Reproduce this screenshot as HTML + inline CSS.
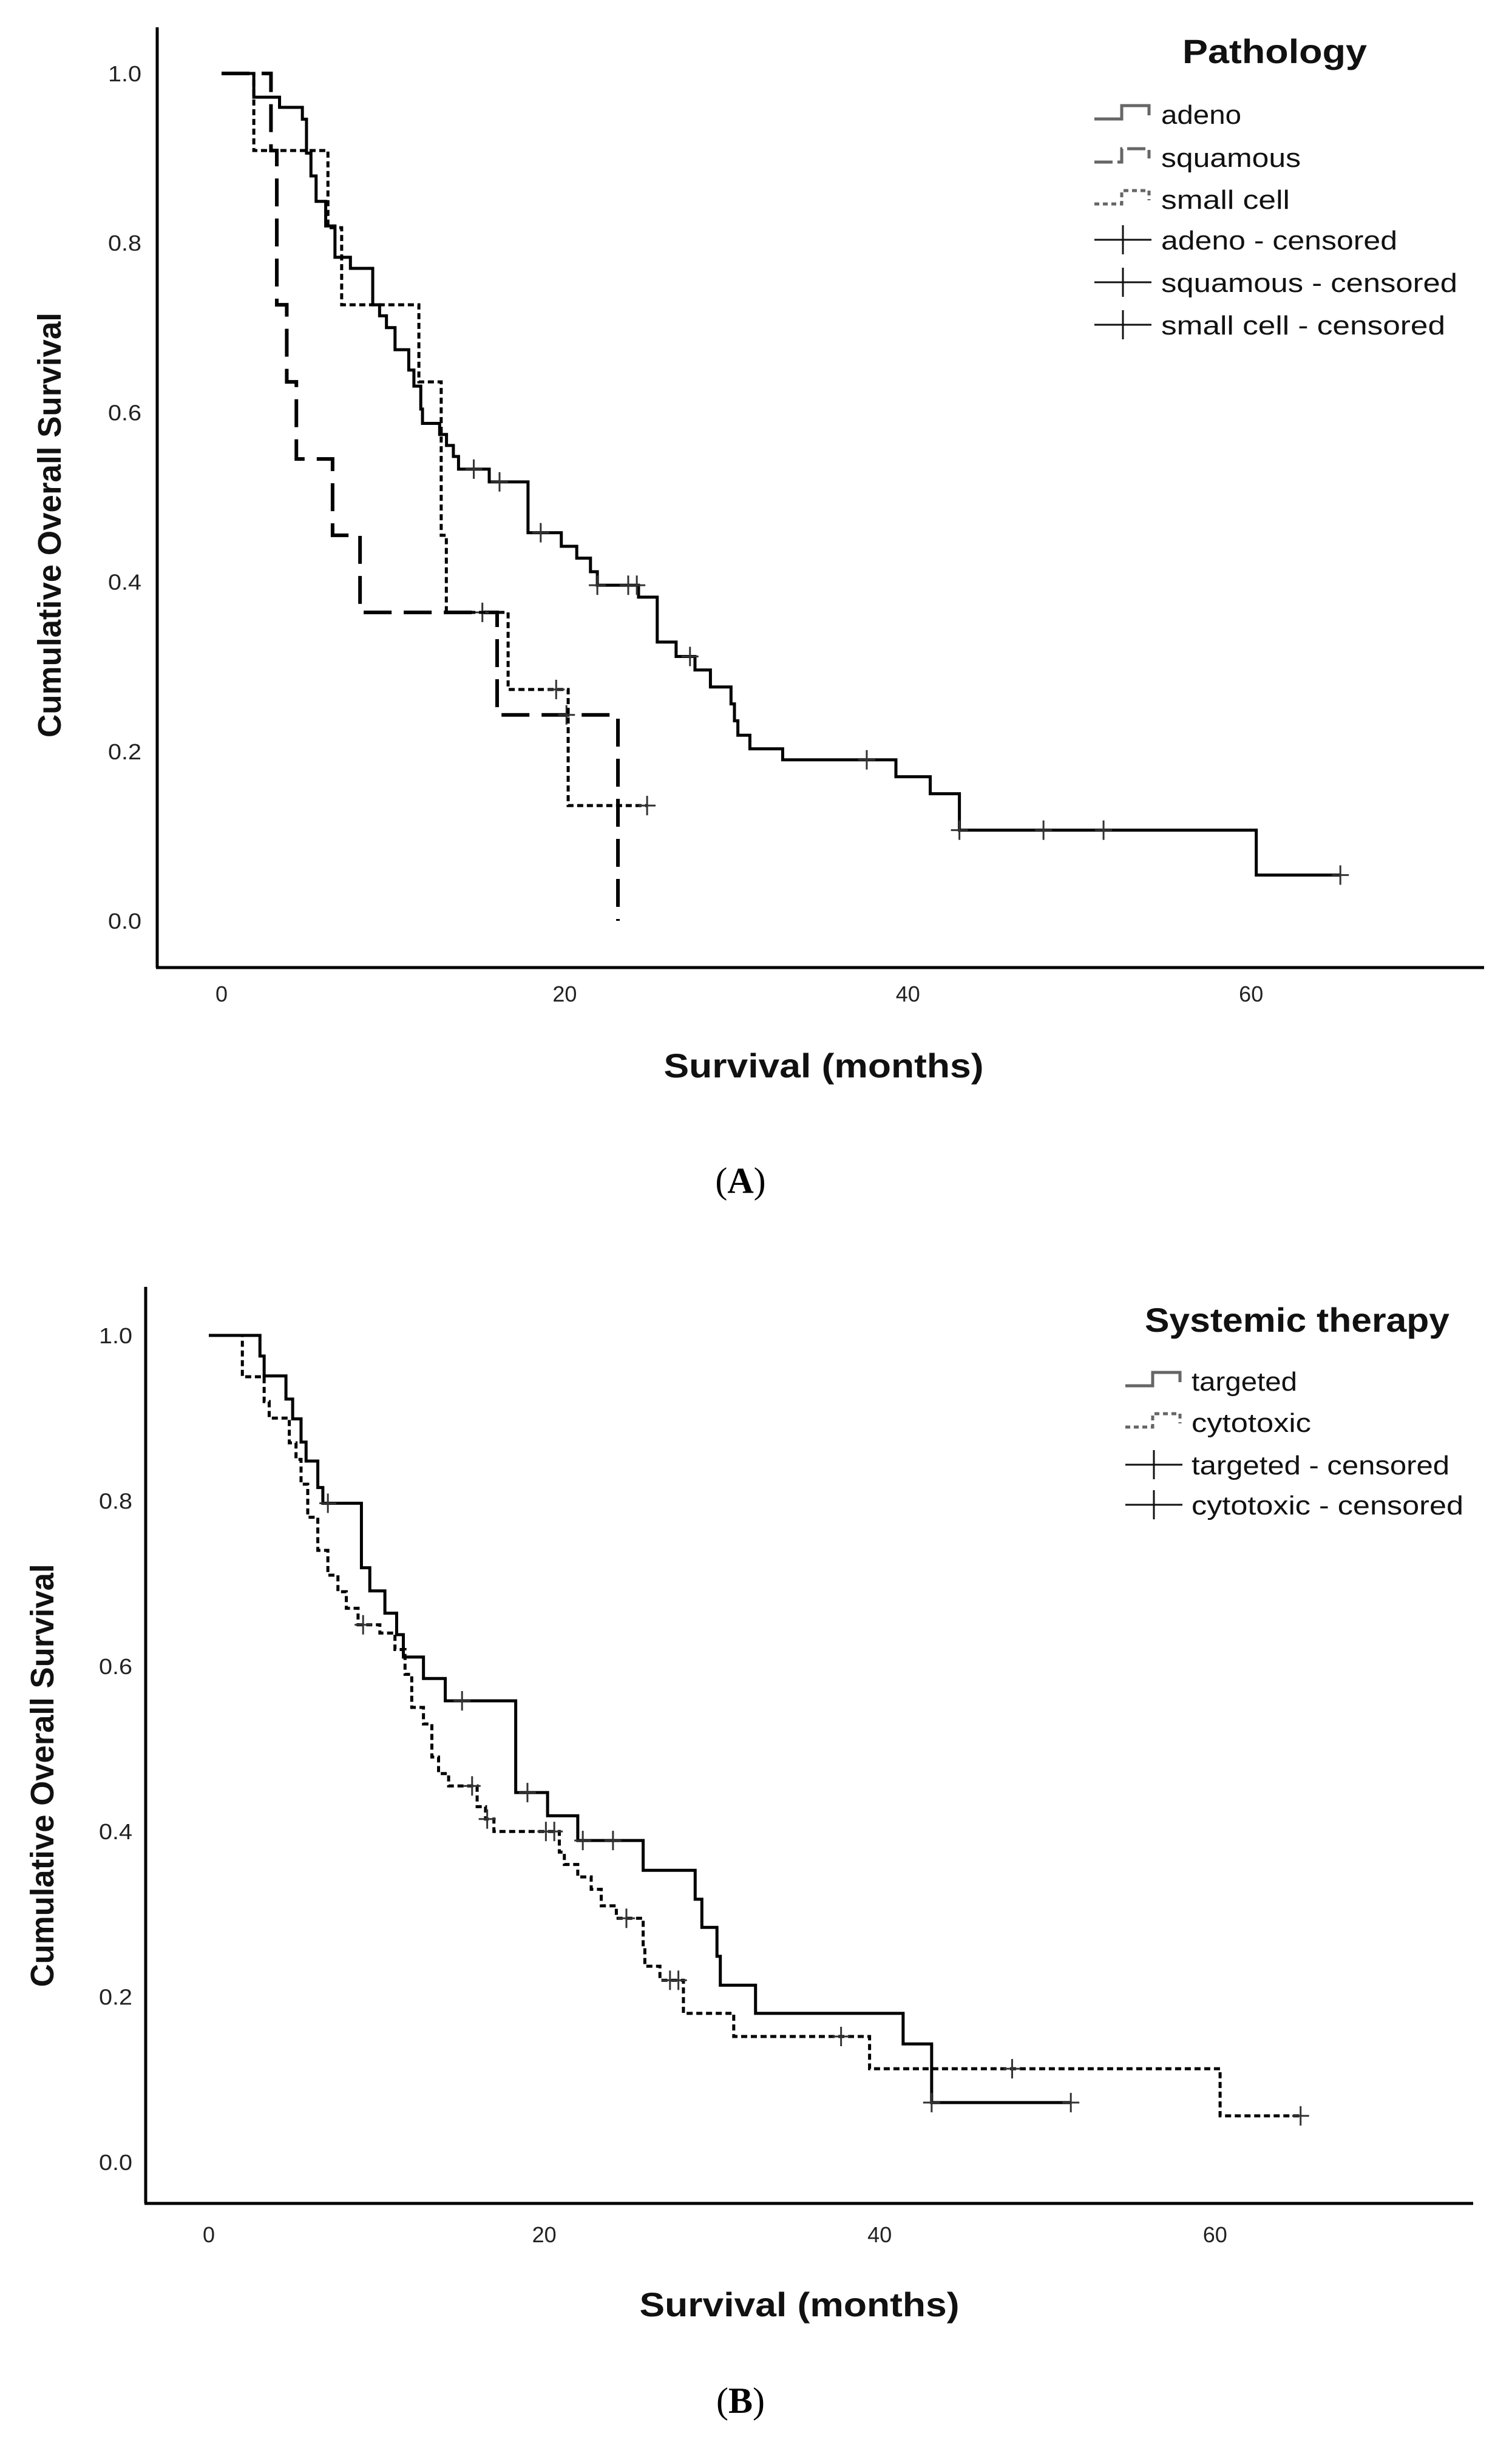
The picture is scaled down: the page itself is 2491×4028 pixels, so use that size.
<!DOCTYPE html>
<html><head><meta charset="utf-8"><style>
html,body{margin:0;padding:0;background:#fff;}
svg{display:block;}
</style></head><body>
<svg id="chart" width="2491" height="4028" viewBox="0 0 2491 4028" xmlns="http://www.w3.org/2000/svg">
<rect width="2491" height="4028" fill="#fff"/>
<g id="panelA"></g>
<g id="panelB"></g>
</svg>
<script>
// ---- Panel A data ----
const xTicks = [0, 20, 40, 60];
const yTicks = [0.0, 0.2, 0.4, 0.6, 0.8, 1.0];
const adenoTimes = [1.88,3.38,4.71,4.95,5.21,5.51,6.07,6.61,7.51,8.81,9.21,9.61,10.11,10.91,11.21,11.61,11.71,12.71,13.11,13.51,13.81,15.6,17.86,19.8,20.7,21.5,21.9,24.3,25.39,26.49,27.59,28.49,29.69,29.89,30.09,30.79,32.7,39.3,41.3,43.0,60.3];
const adenoSurv = [0.972,0.960,0.946,0.906,0.879,0.849,0.820,0.783,0.770,0.727,0.714,0.700,0.674,0.650,0.631,0.604,0.587,0.574,0.561,0.548,0.533,0.518,0.458,0.442,0.428,0.412,0.396,0.382,0.329,0.312,0.296,0.276,0.256,0.236,0.219,0.203,0.190,0.170,0.150,0.107,0.054];
const adenoEnd = 65.2;
const adenoCensor = [14.7,16.2,18.6,21.9,23.7,24.2,27.3,37.6,43.0,47.9,51.4,65.2];
const squamousTimes = [2.88,3.22,3.8,4.36,6.47,8.07,16.06,23.1];
const squamousSurv = [0.909,0.727,0.636,0.545,0.455,0.364,0.243,0.0];
const squamousEnd = 23.1;
const squamousCensor = [15.2,20.1];
const smallTimes = [1.88,6.2,7.0,11.5,12.8,13.1,16.7,20.2];
const smallSurv = [0.909,0.818,0.727,0.636,0.455,0.364,0.273,0.136];
const smallEnd = 24.8;
const smallCensor = [19.5,24.8];
// ---- Panel B data ----
const targetedTimes = [3.05,3.3,4.6,5.0,5.5,5.8,6.5,6.8,9.1,9.6,10.5,11.2,11.6,12.8,14.1,18.3,20.2,22.0,25.9,29.0,29.4,30.3,30.5,32.6,41.4,43.1];
const targetedSurv = [0.975,0.951,0.923,0.899,0.871,0.848,0.816,0.797,0.719,0.691,0.664,0.638,0.611,0.585,0.558,0.447,0.419,0.389,0.353,0.318,0.284,0.249,0.214,0.180,0.143,0.072];
const targetedEnd = 51.4;
const targetedCensor = [7.1,15.1,19.0,22.3,24.1,43.1,51.4];
const cytoTimes = [2.0,3.3,3.6,4.8,5.2,5.5,5.9,6.5,7.1,7.7,8.2,8.9,10.2,11.1,11.7,12.1,12.8,13.3,13.7,14.3,16.0,16.5,17.0,20.9,21.2,22.0,22.8,23.4,24.3,25.9,26.0,26.9,28.3,31.3,39.4,60.3];
const cytoSurv = [0.95,0.92,0.90,0.87,0.85,0.82,0.78,0.74,0.71,0.69,0.67,0.65,0.64,0.62,0.59,0.55,0.53,0.49,0.47,0.455,0.43,0.415,0.40,0.375,0.36,0.345,0.33,0.31,0.295,0.26,0.237,0.22,0.18,0.152,0.113,0.056];
const cytoEnd = 65.1;
const cytoCensor = [9.2,15.7,16.6,20.1,20.6,24.9,27.5,28.0,37.7,47.9,65.1];

const NS = "http://www.w3.org/2000/svg";
function mk(parent, tag, attrs, text){
  const e = document.createElementNS(NS, tag);
  for (const k in attrs) e.setAttribute(k, attrs[k]);
  if (text !== undefined) e.textContent = text;
  parent.appendChild(e);
  return e;
}
function stepPath(times, surv, end, sx, sy){
  let d = "M" + sx(0) + "," + sy(1);
  let cur = 1;
  for (let i = 0; i < times.length; i++){
    d += " L" + sx(times[i]) + "," + sy(cur) + " L" + sx(times[i]) + "," + sy(surv[i]);
    cur = surv[i];
  }
  if (end > times[times.length-1]) d += " L" + sx(end) + "," + sy(cur);
  return d;
}
function survAt(times, surv, t){
  let s = 1;
  for (let i = 0; i < times.length; i++){ if (times[i] <= t + 1e-9) s = surv[i]; }
  return s;
}
const FONT = '"Liberation Sans", sans-serif';

function drawPanel(g, cfg){
  const sx = t => cfg.x0 + cfg.kx * t;
  const sy = s => cfg.y0 - cfg.ky * s;
  const ya = mk(g, "line", {x1: cfg.ax, y1: cfg.axTop, x2: cfg.ax, y2: cfg.ay, stroke: "#000", "stroke-width": 5});
  
  
  const xa = mk(g, "line", {x1: cfg.ax - 2, y1: cfg.ay, x2: cfg.axRight, y2: cfg.ay, stroke: "#000", "stroke-width": 5});
  
  
  yTicks.forEach(v => {
    const t = mk(g, "text", {x: cfg.tickRight, y: sy(v) + 13, "text-anchor": "end", "font-family": FONT, "font-size": 36, fill: "#222", textLength: 55, lengthAdjust: "spacingAndGlyphs"}, v.toFixed(1));
    
    
  });
  xTicks.forEach(v => {
    const t = mk(g, "text", {x: sx(v), y: cfg.xLabY, "text-anchor": "middle", "font-family": FONT, "font-size": 36, fill: "#222"}, String(v));
    
    
  });
  const xt = mk(g, "text", {x: cfg.xTitleX, y: cfg.xTitleY, "text-anchor": "middle", "font-family": FONT, "font-size": 56, "font-weight": "bold", fill: "#111", textLength: 527, lengthAdjust: "spacingAndGlyphs"}, "Survival (months)");
  
  
  const ytt = mk(g, "text", {x: 0, y: 0, "text-anchor": "middle", "font-family": FONT, "font-size": 54, "font-weight": "bold", fill: "#111", textLength: cfg.yTitleLen, lengthAdjust: "spacingAndGlyphs", transform: "translate(" + cfg.yTitleX + "," + cfg.yTitleY + ") rotate(-90)"}, "Cumulative Overall Survival");
  
  
  cfg.series.forEach(sr => {
    const p = mk(g, "path", {d: stepPath(sr.times, sr.surv, sr.end, sx, sy), fill: "none", stroke: "#000", "stroke-width": sr.w, "stroke-dasharray": sr.dash});
    
    
    sr.censor.forEach(c => {
      const s = survAt(sr.times, sr.surv, c);
      const m = mk(g, "path", {d: "M" + sx(c) + "," + (sy(s) - 16) + " L" + sx(c) + "," + (sy(s) + 16) + " M" + (sx(c) - 14) + "," + sy(s) + " L" + (sx(c) + 14) + "," + sy(s), stroke: "#333", "stroke-width": 3});
      
      
    });
  });
  const lt = mk(g, "text", {x: cfg.legTitleX, y: cfg.legTitleY, "font-family": FONT, "font-size": 56, "font-weight": "bold", fill: "#111", textLength: cfg.legTitleLen, lengthAdjust: "spacingAndGlyphs"}, cfg.legTitle);
  
  
  cfg.legend.forEach(L => {
    const lx = cfg.legSymX, cy = L.base - 16;
    let d;
    if (L.kind === "step") {
      d = "M" + lx + "," + (cy + 8) + " L" + (lx + 45) + "," + (cy + 8) + " L" + (lx + 45) + "," + (cy - 14) + " L" + (lx + 90) + "," + (cy - 14) + " L" + (lx + 90) + "," + (cy + 2);
    } else {
      d = "M" + lx + "," + cy + " L" + (lx + 94) + "," + cy + " M" + (lx + 47) + "," + (cy - 24) + " L" + (lx + 47) + "," + (cy + 24);
    }
    const sym = mk(g, "path", {d: d, fill: "none", stroke: L.kind === "step" ? "#666" : "#111", "stroke-width": L.kind === "step" ? 5 : 3, "stroke-dasharray": L.dash || "none"});
    
    
    const tx = mk(g, "text", {x: cfg.legTextX, y: L.base, "font-family": FONT, "font-size": 44, fill: "#111", textLength: L.w, lengthAdjust: "spacingAndGlyphs"}, L.label);
    
    
  });
  const cap = mk(g, "text", {x: cfg.capX, y: cfg.capY, "text-anchor": "middle", "font-family": '"Liberation Serif", serif', "font-size": 60, fill: "#000"}, "");
  
  
  mk(cap, "tspan", {}, "(");
  mk(cap, "tspan", {"font-weight": "bold"}, cfg.cap);
  mk(cap, "tspan", {}, ")");
}

drawPanel(document.getElementById("panelA"), {
  x0: 365, kx: 28.27, y0: 1517, ky: 1396,
  ax: 259, ay: 1594, axTop: 45, axRight: 2445,
  tickRight: 233, xLabY: 1650,
  xTitleX: 1357, xTitleY: 1775,
  yTitleX: 100, yTitleY: 865, yTitleLen: 700,
  legTitle: "Pathology", legTitleX: 1948, legTitleY: 104, legTitleLen: 304,
  legSymX: 1803, legTextX: 1913,
  legend: [
    {label: "adeno", base: 204, w: 132, kind: "step"},
    {label: "squamous", base: 275, w: 230, kind: "step", dash: "30,8"},
    {label: "small cell", base: 344, w: 212, kind: "step", dash: "8,6"},
    {label: "adeno - censored", base: 411, w: 389, kind: "cens"},
    {label: "squamous - censored", base: 481, w: 488, kind: "cens"},
    {label: "small cell - censored", base: 551, w: 468, kind: "cens"}
  ],
  series: [
    {name: "adeno", times: adenoTimes, surv: adenoSurv, end: adenoEnd, censor: adenoCensor, w: 5, dash: "none"},
    {name: "squamous", times: squamousTimes, surv: squamousSurv, end: squamousEnd, censor: squamousCensor, w: 6, dash: "46,20"},
    {name: "small-cell", times: smallTimes, surv: smallSurv, end: smallEnd, censor: smallCensor, w: 5, dash: "10,6"}
  ],
  cap: "A", capX: 1220, capY: 1965
});

drawPanel(document.getElementById("panelB"), {
  x0: 344, kx: 27.63, y0: 3562, ky: 1362,
  ax: 240, ay: 3630, axTop: 2120, axRight: 2427,
  tickRight: 218, xLabY: 3694,
  xTitleX: 1317, xTitleY: 3816,
  yTitleX: 88, yTitleY: 2925, yTitleLen: 697,
  legTitle: "Systemic therapy", legTitleX: 1886, legTitleY: 2194, legTitleLen: 502,
  legSymX: 1854, legTextX: 1963,
  legend: [
    {label: "targeted", base: 2291, w: 174, kind: "step"},
    {label: "cytotoxic", base: 2359, w: 197, kind: "step", dash: "8,6"},
    {label: "targeted - censored", base: 2429, w: 425, kind: "cens"},
    {label: "cytotoxic - censored", base: 2495, w: 448, kind: "cens"}
  ],
  series: [
    {name: "targeted", times: targetedTimes, surv: targetedSurv, end: targetedEnd, censor: targetedCensor, w: 5, dash: "none"},
    {name: "cytotoxic", times: cytoTimes, surv: cytoSurv, end: cytoEnd, censor: cytoCensor, w: 5, dash: "10,6"}
  ],
  cap: "B", capX: 1220, capY: 3975
});
</script>
</body></html>
